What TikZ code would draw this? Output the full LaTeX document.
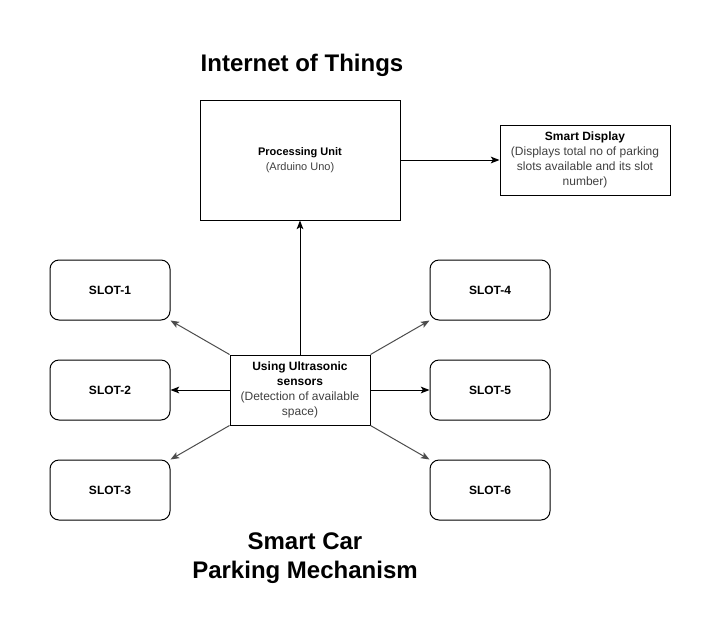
\documentclass[tikz,border=0pt]{standalone}
\usepackage{fontspec}
\setmainfont{Liberation Sans}
\usetikzlibrary{arrows.meta}

\begin{document}
\begin{tikzpicture}[x=0.75pt,y=-0.75pt,
    box/.style={draw,line width=0.75pt,inner sep=0pt,align=center,font=\fontsize{9}{11.25}\selectfont},
    slotbox/.style={box,rounded corners=6.75pt,minimum width=90pt,minimum height=45pt},
    title/.style={align=center,font=\fontsize{18}{21.75}\selectfont\bfseries},
    link/.style={line width=0.75pt,-{Stealth[length=6.5pt,width=5pt,inset=1.5pt]}}]
  \useasboundingbox (0,0) rectangle (721,640);
  % titles
  \node[title] (iot) at (302,65) {Internet of Things};
  \node[title] (scp) at (305,558) {Smart Car\\Parking Mechanism};
  % main blocks
  \node[box,minimum width=150pt,minimum height=90pt] (pu) at (300,160)
    {{\fontsize{8.25}{12}\selectfont\bfseries Processing Unit}\\{\fontsize{8.25}{12}\selectfont\color{black!75}(Arduino Uno)}};
  \node[box,minimum width=127.5pt,minimum height=52.5pt] (disp) at (585,160)
    {\textbf{Smart Display}\\{\color{black!75}(Displays total no of parking}\\{\color{black!75}slots available and its slot}\\{\color{black!75}number)}};
  \node[box,minimum width=105pt,minimum height=52.5pt] (sens) at (300,390)
    {\textbf{Using Ultrasonic}\\\textbf{sensors}\\{\color{black!75}(Detection of available}\\{\color{black!75}space)}};
  % slots
  \node[slotbox] (slot1) at (110,290) {\textbf{SLOT-1}};
  \node[slotbox] (slot2) at (110,390) {\textbf{SLOT-2}};
  \node[slotbox] (slot3) at (110,490) {\textbf{SLOT-3}};
  \node[slotbox] (slot4) at (490,290) {\textbf{SLOT-4}};
  \node[slotbox] (slot5) at (490,390) {\textbf{SLOT-5}};
  \node[slotbox] (slot6) at (490,490) {\textbf{SLOT-6}};
  % connectors
  \draw[link] (pu.east) -- (disp.west);
  \draw[link] (sens.north) -- (pu.south);
  \draw[link,black!70] (sens.north west) -- (slot1.south east);
  \draw[link] (sens.west) -- (slot2.east);
  \draw[link,black!70] (sens.south west) -- (slot3.north east);
  \draw[link,black!70] (sens.north east) -- (slot4.south west);
  \draw[link] (sens.east) -- (slot5.west);
  \draw[link,black!70] (sens.south east) -- (slot6.north west);
\end{tikzpicture}
\end{document}
